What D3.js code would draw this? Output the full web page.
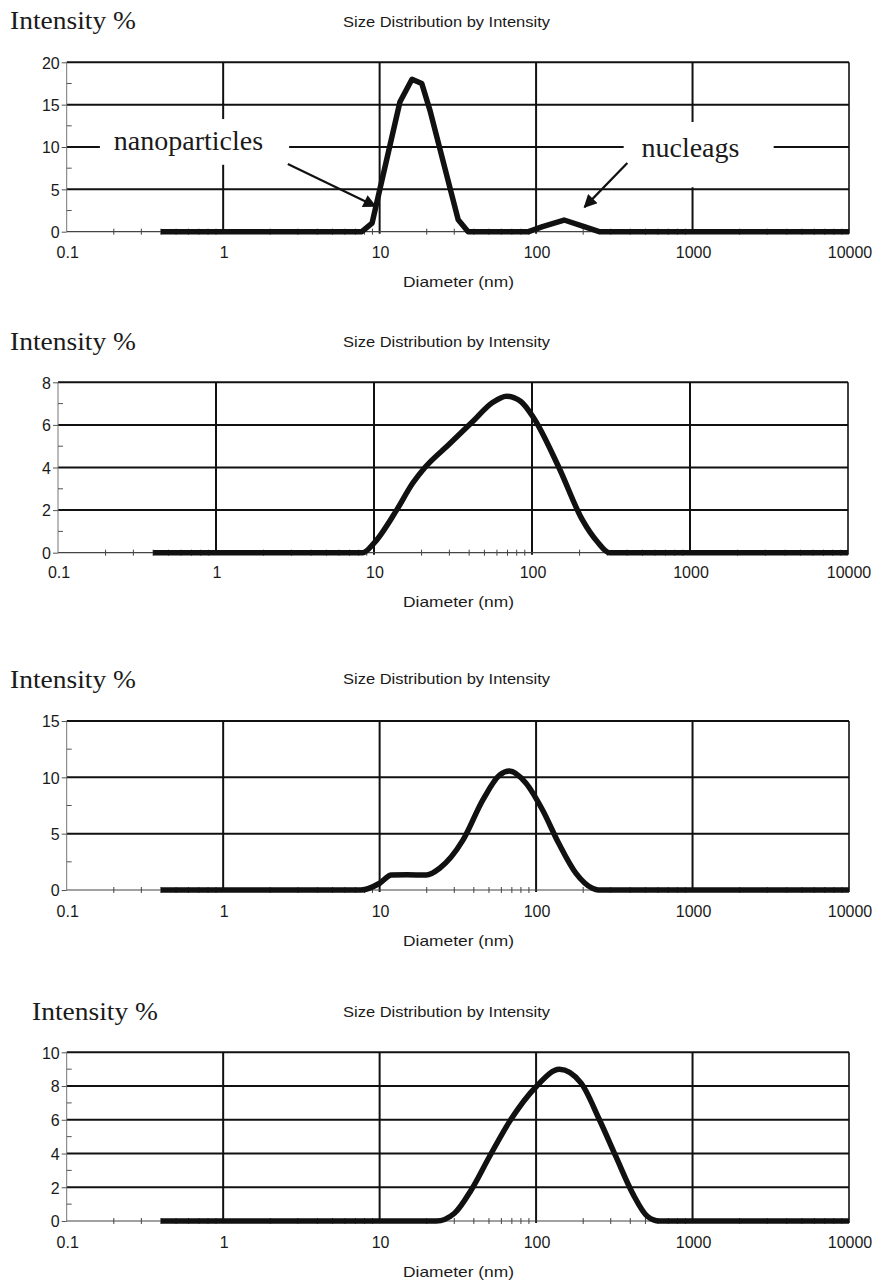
<!DOCTYPE html>
<html><head><meta charset="utf-8">
<script src="https://cdn.jsdelivr.net/npm/d3@7/dist/d3.min.js"></script>
<style>
html,body{margin:0;padding:0;background:#fff;}
svg{display:block;}
</style></head>
<body>
<svg id="chart" width="875" height="1280"></svg>
<script>
// ---------------- DATA ----------------
const xTickValues = [0.1, 1, 10, 100, 1000, 10000];
const xTickLabels = ["0.1", "1", "10", "100", "1000", "10000"];

// Panel 1
const diam1 = [0.4, 7.7, 8.95, 13.5, 16.1, 18.6, 21, 31.8, 36.8, 89.6, 110, 151, 203, 253, 10000];
const int1  = [0,   0,   1.0,  15.35, 18.0, 17.5, 14.3, 1.4, 0,   0,    0.6, 1.38, 0.6, 0,  0];
const yTicks1 = [0, 5, 10, 15, 20];

// Panel 2
const diam2 = [0.4, 8.5, 10, 13.9, 17.6, 21, 30, 42, 56, 69, 85, 103, 148, 208, 260, 309, 10000];
const int2  = [0,   0,   0.45, 2.0, 3.27, 4.0, 5.1, 6.15, 7.04, 7.35, 7.1, 6.3, 4.0, 1.55, 0.5, 0, 0];
const yTicks2 = [0, 2, 4, 6, 8];

// Panel 3
const diam3 = [0.4, 7.6, 10, 11.9, 15, 19.9, 24.2, 34, 45.7, 58.4, 67.6, 86, 110, 140, 180, 229, 250, 10000];
const int3  = [0,   0,   0.6, 1.33, 1.35, 1.33, 1.93, 4.4, 8.0, 10.2, 10.56, 9.5, 7.1, 4.1, 1.47, 0.15, 0, 0];
const yTicks3 = [0, 5, 10, 15];

// Panel 4
const diam4 = [0.4, 23, 30.1, 38.5, 50.3, 67.6, 100, 141, 194, 254, 324, 414, 517, 612, 10000];
const int4  = [0,   0,  0.46, 1.84, 3.81, 5.89, 7.96, 8.99, 8.17, 6.0, 3.81, 1.64, 0.26, 0, 0];
const yTicks4 = [0, 2, 4, 6, 8, 10];

// Texts
const yTitle = "Intensity %";
const chartTitle = "Size Distribution by Intensity";
const xTitle = "Diameter (nm)";
const annoLabels = ["nanoparticles", "nucleags"];
// annotation anchors in data space (diameter, intensity)
const annoTextPos = [[0.6, 9.65], [970, 8.8]];
const annoBox = [[[0.163, 13.3], [2.64, 7.9]], [[363, 12.95], [3300, 5.25]]];
const annoArrowFrom = [[2.59, 8.0], [383, 8.1]];
const annoArrowTo = [[9.4, 3.0], [204, 2.9]];

// ---------------- LAYOUT ----------------
const panels = [
  {d: diam1, v: int1, ticks: yTicks1, left: 66.7, right: 849, top: 62.3, bottom: 231.7, tY: 29, tX: 10, sY: 27, xlY: 258, dY: 287, curve: d3.curveLinear, anno: true},
  {d: diam2, v: int2, ticks: yTicks2, left: 58, right: 848, top: 382.3, bottom: 552.7, tY: 350, tX: 10, sY: 347, xlY: 578, dY: 607, curve: d3.curveMonotoneX},
  {d: diam3, v: int3, ticks: yTicks3, left: 66.7, right: 849, top: 721, bottom: 890, tY: 688, tX: 10, sY: 684, xlY: 917, dY: 946, curve: d3.curveMonotoneX},
  {d: diam4, v: int4, ticks: yTicks4, left: 66.7, right: 849, top: 1052.3, bottom: 1221, tY: 1020, tX: 32, sY: 1017, xlY: 1248, dY: 1277, curve: d3.curveMonotoneX}
];

const svg = d3.select("#chart");
svg.append("rect").attr("width", 875).attr("height", 1280).attr("fill", "#fff");
svg.append("defs").append("marker")
  .attr("id", "arrow").attr("viewBox", "0 0 10 10").attr("refX", 9).attr("refY", 5)
  .attr("markerWidth", 7).attr("markerHeight", 6).attr("orient", "auto").attr("markerUnits", "strokeWidth")
  .append("path").attr("d", "M0,0 L10,5 L0,10 Z").attr("fill", "#111");

const sans = "'Liberation Sans', Arial, sans-serif";
const serif = "'Liberation Serif', 'Times New Roman', serif";

panels.forEach(p => {
  const g = svg.append("g");
  const x = d3.scaleLog().domain([0.1, 10000]).range([p.left, p.right]);
  const ymax = p.ticks[p.ticks.length - 1];
  const y = d3.scaleLinear().domain([0, ymax]).range([p.bottom, p.top]);
  const step = p.ticks[1] - p.ticks[0];

  // Titles
  g.append("text").attr("x", p.tX).attr("y", p.tY).attr("font-family", serif)
    .attr("font-size", 26).attr("textLength", 126).attr("lengthAdjust", "spacingAndGlyphs")
    .attr("fill", "#1a1a1a").text(yTitle);
  g.append("text").attr("x", 343).attr("y", p.sY).attr("font-family", sans)
    .attr("font-size", 15).attr("textLength", 207).attr("lengthAdjust", "spacingAndGlyphs")
    .attr("fill", "#1a1a1a").text(chartTitle);
  g.append("text").attr("x", 403).attr("y", p.dY).attr("font-family", sans)
    .attr("font-size", 15).attr("textLength", 111).attr("lengthAdjust", "spacingAndGlyphs")
    .attr("fill", "#1a1a1a").text(xTitle);

  // Horizontal gridlines (major y ticks except 0)
  g.selectAll(".hg").data(p.ticks.filter(t => t > 0)).enter().append("line")
    .attr("x1", p.left).attr("x2", p.right)
    .attr("y1", d => y(d)).attr("y2", d => y(d))
    .attr("stroke", "#111").attr("stroke-width", 2);
  // Vertical gridlines at decades
  g.selectAll(".vg").data(xTickValues.slice(1)).enter().append("line")
    .attr("x1", d => x(d)).attr("x2", d => x(d))
    .attr("y1", p.top).attr("y2", p.bottom + 2)
    .attr("stroke", "#111").attr("stroke-width", d => d === 10000 ? 1.6 : 2);

  // Left axis
  g.append("line").attr("x1", p.left).attr("x2", p.left).attr("y1", p.top).attr("y2", p.bottom)
    .attr("stroke", "#777").attr("stroke-width", 1);
  // Y axis ticks and labels
  const yAxis = d3.axisLeft(y).tickValues(p.ticks).tickSize(5).tickPadding(2).tickFormat(d3.format("d"));
  const ya = g.append("g").attr("transform", `translate(${p.left},0)`).call(yAxis);
  ya.select(".domain").remove();
  ya.selectAll("line").attr("stroke", "#555");
  ya.selectAll("text").attr("font-family", sans).attr("font-size", 16).attr("fill", "#1a1a1a").attr("dy", "0.36em");
  // Y minor ticks inside
  const yMinor = d3.range(step / 2, ymax, step);
  g.selectAll(".ym").data(yMinor).enter().append("line")
    .attr("x1", p.left).attr("x2", p.left + 5)
    .attr("y1", d => y(d)).attr("y2", d => y(d))
    .attr("stroke", "#555").attr("stroke-width", 1);

  // X axis line
  g.append("line").attr("x1", p.left).attr("x2", p.right).attr("y1", p.bottom).attr("y2", p.bottom)
    .attr("stroke", "#444").attr("stroke-width", 1.2);
  // X minor ticks
  const xMinor = [];
  [0.1, 1, 10, 100, 1000].forEach(dec => { for (let k = 2; k <= 9; k++) xMinor.push(dec * k); });
  g.selectAll(".xm").data(xMinor).enter().append("line")
    .attr("x1", d => x(d)).attr("x2", d => x(d))
    .attr("y1", p.bottom - 3).attr("y2", p.bottom + 3)
    .attr("stroke", "#444").attr("stroke-width", 1);
  // X tick labels
  g.selectAll(".xl").data(xTickValues).enter().append("text")
    .attr("x", d => x(d) + 1).attr("y", p.xlY).attr("text-anchor", "middle")
    .attr("font-family", sans).attr("font-size", 16).attr("fill", "#1a1a1a")
    .text((d, i) => xTickLabels[i]);

  // Annotations
  if (p.anno) {
    annoLabels.forEach((lab, i) => {
      const b = annoBox[i];
      g.append("rect").attr("x", x(b[0][0])).attr("y", y(b[0][1]))
        .attr("width", x(b[1][0]) - x(b[0][0])).attr("height", y(b[1][1]) - y(b[0][1]))
        .attr("fill", "#fff");
      g.append("text").attr("x", x(annoTextPos[i][0])).attr("y", y(annoTextPos[i][1]))
        .attr("text-anchor", "middle").attr("font-family", serif).attr("font-size", 28)
        .attr("fill", "#1a1a1a").text(lab);
      g.append("line")
        .attr("x1", x(annoArrowFrom[i][0])).attr("y1", y(annoArrowFrom[i][1]))
        .attr("x2", x(annoArrowTo[i][0])).attr("y2", y(annoArrowTo[i][1]))
        .attr("stroke", "#111").attr("stroke-width", 2.2).attr("marker-end", "url(#arrow)");
    });
  }

  // Curve
  const pts = p.d.map((d, i) => [d, p.v[i]]);
  const line = d3.line().x(d => x(d[0])).y(d => y(d[1])).curve(p.curve);
  g.append("path").datum(pts).attr("d", line).attr("fill", "none")
    .attr("stroke", "#111").attr("stroke-width", 5.5).attr("stroke-linejoin", "round");
});
</script>
</body></html>
